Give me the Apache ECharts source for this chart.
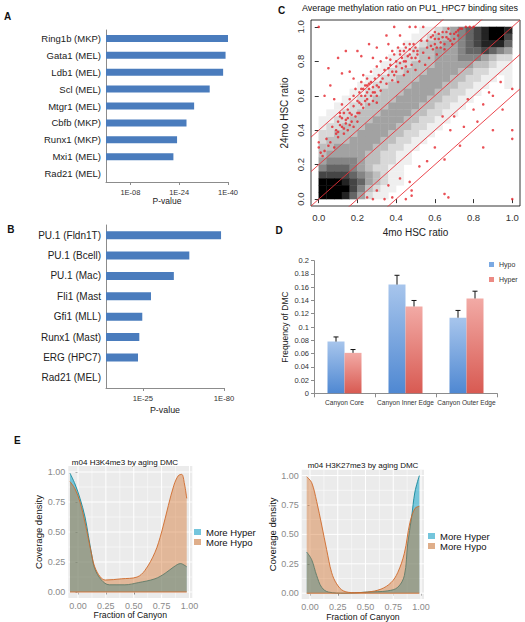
<!DOCTYPE html>
<html><head><meta charset="utf-8">
<script src="https://cdn.jsdelivr.net/npm/echarts@6/dist/echarts.min.js"></script>
<style>html,body{margin:0;padding:0;background:#fff}#c{width:525px;height:622px}</style>
</head><body><div id="c"></div>
<script>
// ---------- Panel A ----------
const aCategories = ['Ring1b (MKP)','Gata1 (MEL)','Ldb1 (MEL)','Scl (MEL)','Mtgr1 (MEL)','Cbfb (MKP)','Runx1 (MKP)','Mxi1 (MEL)','Rad21 (MEL)'];
const aValues = [40, 39.2, 38.4, 34, 28.9, 26.4, 23.3, 22.1, 0];      // -log10(P)
const aTickValues = [8, 24, 40];
const aTickLabels = ['1E-08', '1E-24', '1E-40'];
// ---------- Panel B ----------
const bCategories = ['PU.1 (Fldn1T)','PU.1 (Bcell)','PU.1 (Mac)','Fli1 (Mast','Gfi1 (MLL)','Runx1 (Mast)','ERG (HPC7)','Rad21 (MEL)'];
const bValues = [78, 56.5, 46, 30.5, 24.6, 22.6, 21.7, 0];           // -log10(P)
const bTickValues = [25, 80];
const bTickLabels = ['1E-25', '1E-80'];
// ---------- Panel C ----------
const cTicks = [0, 0.2, 0.4, 0.6, 0.8, 1.0];
const cDiagOffsets = [-0.4, -0.2, 0, 0.2, 0.4];
// density of black points, rows from y=1 (top) to y=0, columns x=0..1, bins of 0.04
const cDensityRows = [
"0000000000000112345678998",
"0000000000001123345678997",
"0000000000011233445678886",
"0000000000112334445667654",
"0000000001122334445554322",
"0000000011223334444433211",
"0000000112233344443322111",
"0000001122333444433221101",
"0000011223334444332211001",
"0000112233344443322110000",
"0001122333444433221100000",
"0011223334444332211000000",
"0112233344443322110000000",
"1122333444433221100000000",
"1223334444332211000000000",
"2233344443322110000000000",
"2333444433221100000000000",
"3344444332211000000000000",
"3444443322110000000000000",
"4555543322110000000000000",
"5666543221100000000000000",
"7777654321100000000000000",
"9998764321100000000000000",
"9999753211000000000000000",
"9998642110000000000000000"
];
const cHyperPoints = [[0,1],[0.05,0.76],[0.03,0.6],[0,0.33],[0,0.3],[0.01,0.27],[0.02,0.25],[0.03,0.28],[0.05,0.31],[0.04,0.35],[0.06,0.33],[0.08,0.3],[0.07,0.42],[0.09,0.38],[0.1,0.45],[0.11,0.48],[0.12,0.42],[0.13,0.5],[0.12,0.55],[0.14,0.46],[0.15,0.52],[0.16,0.58],[0.17,0.49],[0.18,0.6],[0.18,0.54],[0.19,0.64],[0.2,0.57],[0.2,0.5],[0.21,0.62],[0.22,0.68],[0.22,0.55],[0.23,0.72],[0.24,0.6],[0.24,0.66],[0.25,0.7],[0.25,0.58],[0.26,0.64],[0.27,0.74],[0.27,0.68],[0.28,0.62],[0.29,0.7],[0.3,0.66],[0.3,0.77],[0.31,0.72],[0.32,0.8],[0.32,0.63],[0.33,0.7],[0.34,0.75],[0.35,0.67],[0.35,0.82],[0.36,0.72],[0.37,0.78],[0.38,0.69],[0.38,0.86],[0.4,0.74],[0.4,0.8],[0.41,0.68],[0.42,0.84],[0.43,0.76],[0.44,0.72],[0.45,0.88],[0.45,0.8],[0.46,0.74],[0.47,0.84],[0.48,0.78],[0.49,0.9],[0.5,0.82],[0.5,0.75],[0.51,0.86],[0.52,0.8],[0.53,0.92],[0.54,0.85],[0.55,0.78],[0.56,0.88],[0.57,0.82],[0.58,0.94],[0.59,0.87],[0.6,0.9],[0.61,0.84],[0.62,0.93],[0.63,0.88],[0.64,0.97],[0.65,0.9],[0.66,0.94],[0.67,0.99],[0.68,0.92],[0.7,0.96],[0.72,0.98],[0.74,0.99],[0.76,1],[0.78,1],[0.8,1],[0.2,0.86],[0.22,0.83],[0.14,0.86],[0.1,0.82],[0.06,0.66],[0.08,0.58],[0.12,0.73],[0.16,0.74],[0.26,0.9],[0.3,0.88],[0.35,0.95],[0.39,1],[0.47,1],[0.5,1],[0.54,1],[0.42,0.95],[0.44,0.9],[0.36,0.9],[0.28,0.82],[0.18,0.7],
[0.09,0.4],[0.1,0.39],[0.11,0.43],[0.12,0.47],[0.13,0.41],[0.14,0.44],[0.15,0.4],[0.15,0.47],[0.16,0.43],[0.17,0.45],[0.18,0.42],[0.19,0.48],[0.2,0.45],[0.21,0.5],[0.13,0.38],[0.11,0.5],[0.16,0.5],[0.1,0.36],
[0.21,0.56],[0.22,0.6],[0.23,0.53],[0.23,0.64],[0.24,0.57],[0.25,0.62],[0.26,0.55],[0.26,0.67],[0.27,0.6],[0.28,0.65],[0.28,0.57],[0.29,0.62],[0.3,0.6],[0.31,0.65],[0.32,0.68],[0.25,0.66],[0.22,0.64],[0.3,0.56],
[0.36,0.76],[0.37,0.81],[0.38,0.74],[0.39,0.84],[0.4,0.77],[0.41,0.88],[0.42,0.79],[0.43,0.82],[0.44,0.86],[0.45,0.77],[0.46,0.83],[0.47,0.9],[0.48,0.82],[0.49,0.86],[0.5,0.88],[0.51,0.84],[0.39,0.72],[0.44,0.8],[0.47,0.87],[0.42,0.86],
[0.56,0.92],[0.58,0.89],[0.59,0.95],[0.6,0.93],[0.61,0.88],[0.62,0.96],[0.63,0.91],[0.64,0.94],[0.65,0.87],[0.66,0.97],[0.67,0.93],[0.68,0.96],[0.69,0.9],[0.7,0.93],[0.71,0.97],[0.72,0.95],[0.73,0.99],[0.6,0.97]];
const cHypoPoints = [[0.25,0.01],[0.28,0],[0.34,0],[0.38,0.01],[0.45,0],[0.48,0.02],[0.48,0.05],[0.65,0.03],[0.67,0.01],[1,0],[0.3,0.05],[0.36,0.08],[0.42,0.12],[0.47,0.1],[0.52,0.19],[0.56,0.22],[0.6,0.3],[0.65,0.23],[0.64,0.48],[0.68,0.4],[0.73,0.31],[0.77,0.58],[0.8,0.52],[0.82,0.45],[0.85,0.55],[0.88,0.62],[0.9,0.6],[0.94,0.68],[1,0.64],[1,0.4],[1,0.35],[0.95,0.52],[0.7,0.48],[0.75,0.42],[0.85,0.3],[0.9,0.4]];
// ---------- Panel D ----------
const dCategories = ['Canyon Core', 'Canyon Inner Edge', 'Canyon Outer Edge'];
const dHypo = [0.078, 0.164, 0.114];
const dHyper = [0.061, 0.131, 0.143];
const dHypoErr = [0.007, 0.014, 0.011];
const dHyperErr = [0.005, 0.009, 0.011];
// ---------- Panel E ----------
const eMajor = [0, 0.25, 0.5, 0.75, 1];
const eMinor = [0.125, 0.375, 0.625, 0.875];
const e1HyperX = [-0.072,-0.027,0.018,0.063,0.093,0.123,0.15,0.21,0.28,0.42,0.54,0.69,0.78,0.86,0.92,0.96,0.975];
const e1HyperY = [0.99,0.90,0.78,0.625,0.47,0.31,0.195,0.10,0.06,0.06,0.078,0.11,0.155,0.21,0.237,0.22,0.21];
const e1HypoX = [-0.072,-0.027,0.018,0.063,0.093,0.123,0.15,0.2,0.245,0.39,0.53,0.6,0.69,0.75,0.81,0.86,0.9,0.93,0.955,0.975];
const e1HypoY = [0.92,0.86,0.75,0.58,0.445,0.31,0.21,0.125,0.10,0.11,0.125,0.18,0.33,0.5,0.72,0.89,0.97,0.98,0.9,0.78];
const e2HyperX = [-0.03,0.015,0.06,0.105,0.165,0.315,0.52,0.7,0.79,0.85,0.88,0.915,0.945,0.985];
const e2HyperY = [0.35,0.285,0.15,0.05,0.01,0.0,0.01,0.02,0.05,0.15,0.42,0.645,0.86,1.0];
const e2HypoX = [-0.03,0.015,0.06,0.105,0.15,0.195,0.24,0.3,0.4,0.52,0.64,0.73,0.79,0.85,0.9,0.945,0.985];
const e2HypoY = [0.99,0.94,0.78,0.58,0.37,0.175,0.08,0.02,0.005,0.01,0.035,0.09,0.175,0.34,0.6,0.72,0.74];

const FONT = 'Liberation Sans, Arial, Helvetica, sans-serif';
const zip = (xs, ys) => xs.map((x, i) => [x, ys[i]]);

// density cells
const cCells = [];
cDensityRows.forEach((row, r) => {
  for (let c = 0; c < row.length; c++) {
    const v = +row[c];
    if (v > 0) cCells.push([c * 0.04, 1 - (r + 1) * 0.04, v]);
  }
});

const barW = 17;
function errSeries(values, errs, side) {
  return {
    type: 'custom', xAxisIndex: 3, yAxisIndex: 3, z: 5,
    data: values.map((v, i) => [i, v, v + errs[i]]),
    renderItem: (params, api) => {
      const b = api.coord([api.value(0), api.value(1)]);
      const t = api.coord([api.value(0), api.value(2)]);
      const x = b[0] + side * barW / 2;
      return { type: 'group', children: [
        { type: 'line', shape: { x1: x, y1: b[1], x2: x, y2: t[1] }, style: { stroke: '#111', lineWidth: 1 } },
        { type: 'line', shape: { x1: x - 2.5, y1: t[1], x2: x + 2.5, y2: t[1] }, style: { stroke: '#111', lineWidth: 1 } }
      ]};
    }
  };
}
function gridLines(idx, vals, vertical, lo, hi, width) {
  return {
    type: 'custom', xAxisIndex: idx, yAxisIndex: idx, z: 1, silent: true,
    data: vals.map(v => [v, 0]),
    renderItem: (params, api) => {
      const v = api.value(0);
      const p1 = vertical ? api.coord([v, lo]) : api.coord([lo, v]);
      const p2 = vertical ? api.coord([v, hi]) : api.coord([hi, v]);
      return { type: 'line', shape: { x1: p1[0], y1: p1[1], x2: p2[0], y2: p2[1] }, style: { stroke: '#ffffff', lineWidth: width } };
    }
  };
}
function densSeries(idx, name, xs, ys, line, fill, op, z) {
  return {
    name: name, type: 'line', xAxisIndex: idx, yAxisIndex: idx, z: z,
    data: zip(xs, ys), smooth: 0.35, showSymbol: false, symbol: 'none',
    lineStyle: { color: line, width: 0.9 }, itemStyle: { color: fill },
    areaStyle: { color: fill, opacity: op }
  };
}
function baseLine(idx, x0, x1, color, z) {
  return { type: 'line', xAxisIndex: idx, yAxisIndex: idx, z: z, data: [[x0, 0], [x1, 0]], showSymbol: false, symbol: 'none', lineStyle: { color: color, width: 0.9 } };
}

const grayAxis = { lineStyle: { color: '#8c8c8c' } };
const E1 = { xmin: -0.087, xmax: 1.025 }, E2 = { xmin: -0.075, xmax: 1.027 };
const eXAxis = (gi, r) => ({
  gridIndex: gi, type: 'value', min: r.xmin, max: r.xmax, axisLine: { show: false },
  axisTick: { show: true, customValues: eMajor, length: 2.5, lineStyle: { color: '#444', width: 0.8 } },
  axisLabel: { customValues: eMajor, formatter: v => v.toFixed(2), fontSize: 9, color: '#8a8a8a', margin: 3 },
  splitLine: { show: false }, name: 'Fraction of Canyon', nameLocation: 'middle', nameGap: 12,
  nameTextStyle: { fontSize: 8.7, color: '#111' }
});
const eYAxis = (gi) => ({
  gridIndex: gi, type: 'value', min: -0.05, max: 1.05, axisLine: { show: false },
  axisTick: { show: true, customValues: eMajor, length: 2.5, lineStyle: { color: '#444', width: 0.8 } },
  axisLabel: { customValues: eMajor, formatter: v => v.toFixed(2), fontSize: 9, color: '#8a8a8a', margin: 3 },
  splitLine: { show: false }, name: 'Coverage density', nameLocation: 'middle', nameGap: 17,
  nameTextStyle: { fontSize: 9.5, color: '#111' }
});

const HYPER_FILL = '#00a0c8', HYPER_LINE = '#16889a', HYPO_FILL = '#d2691e', HYPO_LINE = '#cf6a2a';

const txt = (text, x, y, size, opts) => Object.assign({
  type: 'text', x: x, y: y,
  style: Object.assign({ text: text, fontSize: size, fontFamily: FONT, fill: '#111', textAlign: 'center', textVerticalAlign: 'middle' }, opts || {})
});

const option = {
  animation: false,
  textStyle: { fontFamily: FONT },
  grid: [
    { left: 106, top: 30, width: 122, height: 152 },
    { left: 106, top: 225, width: 118, height: 163 },
    { left: 311, top: 20, width: 209, height: 186, show: true, borderColor: '#000', borderWidth: 0.8, backgroundColor: 'transparent' },
    { left: 314, top: 260.7, width: 183, height: 132.6 },
    { left: 68.3, top: 466, width: 124, height: 132, show: true, backgroundColor: '#ebebeb', borderWidth: 0 },
    { left: 301.7, top: 469.7, width: 122.3, height: 132.3, show: true, backgroundColor: '#ebebeb', borderWidth: 0 }
  ],
  xAxis: [
    { gridIndex: 0, type: 'value', min: 0, max: 40, splitLine: { show: false }, axisLine: Object.assign({ show: true }, grayAxis),
      axisTick: { show: true, customValues: aTickValues, length: 3, lineStyle: { color: '#8c8c8c' } },
      axisLabel: { customValues: aTickValues, formatter: v => aTickLabels[aTickValues.indexOf(v)], fontSize: 7.5, color: '#333', margin: 6 },
      name: 'P-value', nameLocation: 'middle', nameGap: 14.5, nameTextStyle: { fontSize: 8.5, color: '#222' } },
    { gridIndex: 1, type: 'value', min: 0, max: 80, splitLine: { show: false }, axisLine: Object.assign({ show: true }, grayAxis),
      axisTick: { show: true, customValues: bTickValues, length: 3, lineStyle: { color: '#8c8c8c' } },
      axisLabel: { customValues: bTickValues, formatter: v => bTickLabels[bTickValues.indexOf(v)], fontSize: 7.7, color: '#333', margin: 6 },
      name: 'P-value', nameLocation: 'middle', nameGap: 17.5, nameTextStyle: { fontSize: 8.9, color: '#222' } },
    { gridIndex: 2, type: 'value', min: -0.04, max: 1.04, axisLine: { show: false }, splitLine: { show: false },
      axisTick: { show: true, customValues: cTicks, length: 4, lineStyle: { color: '#000', width: 0.8 } },
      axisLabel: { customValues: cTicks, formatter: v => v.toFixed(1), fontSize: 9.5, color: '#333', margin: 6 },
      name: '4mo HSC ratio', nameLocation: 'middle', nameGap: 21, nameTextStyle: { fontSize: 10, color: '#222' } },
    { gridIndex: 3, type: 'category', data: dCategories, axisLine: grayAxis,
      axisTick: { show: true, length: 4, lineStyle: { color: '#8c8c8c' } },
      axisLabel: { fontSize: 6.6, color: '#333', margin: 6, interval: 0 } },
    eXAxis(4, E1),
    eXAxis(5, E2)
  ],
  yAxis: [
    { gridIndex: 0, type: 'category', data: aCategories, inverse: true, axisLine: grayAxis, axisTick: { show: false },
      axisLabel: { fontSize: 9.5, color: '#222', margin: 5 } },
    { gridIndex: 1, type: 'category', data: bCategories, inverse: true, axisLine: grayAxis, axisTick: { show: false },
      axisLabel: { fontSize: 10, color: '#222', margin: 5 } },
    { gridIndex: 2, type: 'value', min: -0.04, max: 1.04, axisLine: { show: false }, splitLine: { show: false },
      axisTick: { show: true, customValues: cTicks, length: 4, lineStyle: { color: '#000', width: 0.8 } },
      axisLabel: { customValues: cTicks, formatter: v => v.toFixed(1), fontSize: 9.5, color: '#333', margin: 6, rotate: 90 },
      name: '24mo HSC ratio', nameLocation: 'middle', nameGap: 22, nameTextStyle: { fontSize: 10, color: '#222' } },
    { gridIndex: 3, type: 'value', min: 0, max: 0.2, interval: 0.02, splitLine: { show: false },
      axisLine: { show: true, lineStyle: { color: '#8c8c8c' } },
      axisTick: { show: true, length: 3, lineStyle: { color: '#8c8c8c' } },
      axisLabel: { fontSize: 7.5, color: '#333', margin: 5 },
      name: 'Frequency of DMC', nameLocation: 'middle', nameGap: 25, nameTextStyle: { fontSize: 8.5, color: '#222' } },
    eYAxis(4),
    eYAxis(5)
  ],
  legend: [
    { left: 489, top: 261, orient: 'vertical', icon: 'rect', itemWidth: 5, itemHeight: 5, itemGap: 8, padding: 0,
      textStyle: { fontSize: 7, color: '#333' },
      data: [{ name: 'Hypo', itemStyle: { color: '#7aa9e3' } }, { name: 'Hyper', itemStyle: { color: '#ec8a84' } }] },
    { left: 194, top: 527, orient: 'vertical', icon: 'rect', itemWidth: 7, itemHeight: 6, itemGap: 0, padding: 0,
      textStyle: { fontSize: 9.5, lineHeight: 7, color: '#111' },
      data: [{ name: 'More Hyper', itemStyle: { color: '#74c5dc', borderWidth: 0 } }, { name: 'More Hypo', itemStyle: { color: '#dfae8a', borderWidth: 0 } }] },
    { left: 428, top: 531, orient: 'vertical', icon: 'rect', itemWidth: 7, itemHeight: 6, itemGap: 0, padding: 0,
      textStyle: { fontSize: 9.5, lineHeight: 7, color: '#111' },
      data: [{ name: 'More Hyper', itemStyle: { color: '#74c5dc', borderWidth: 0 } }, { name: 'More Hypo', itemStyle: { color: '#dfae8a', borderWidth: 0 } }] }
  ],
  graphic: { elements: [
    txt('A', 7.5, 16.7, 10, { fontWeight: 'bold' }),
    txt('B', 10.8, 229.7, 10, { fontWeight: 'bold' }),
    txt('C', 281.7, 10.7, 10, { fontWeight: 'bold' }),
    txt('D', 279, 230, 10, { fontWeight: 'bold' }),
    txt('E', 17.3, 440.7, 10, { fontWeight: 'bold' }),
    txt('Average methylation ratio on PU1_HPC7 binding sites', 410, 7.5, 9),
    txt('m04 H3K4me3 by aging DMC', 125, 462, 8),
    txt('m04 H3K27me3 by aging DMC', 363, 465, 8)
  ]},
  series: [
    { type: 'bar', xAxisIndex: 0, yAxisIndex: 0, data: aValues, barWidth: 7, itemStyle: { color: '#4a7cbd' } },
    { type: 'bar', xAxisIndex: 1, yAxisIndex: 1, data: bValues, barWidth: 8, itemStyle: { color: '#4a7cbd' } },
    // C: density of black points
    { type: 'custom', xAxisIndex: 2, yAxisIndex: 2, z: 1, silent: true, data: cCells,
      renderItem: (params, api) => {
        const x0 = api.value(0), y0 = api.value(1), v = api.value(2);
        const p1 = api.coord([x0, y0 + 0.04]), p2 = api.coord([x0 + 0.04, y0]);
        const g = Math.round(255 * (1 - Math.pow(v / 9, 1.25)));
        return { type: 'rect', shape: { x: p1[0] - 0.2, y: p1[1] - 0.2, width: p2[0] - p1[0] + 0.4, height: p2[1] - p1[1] + 0.4 },
          style: { fill: 'rgb(' + g + ',' + g + ',' + g + ')' } };
      } },
    ...cDiagOffsets.map(o => ({ type: 'line', xAxisIndex: 2, yAxisIndex: 2, z: 3, clip: true, showSymbol: false, symbol: 'none',
      data: [[-0.04, -0.04 + o], [1.04, 1.04 + o]], lineStyle: { color: '#e8323a', width: 0.9 } })),
    { type: 'scatter', xAxisIndex: 2, yAxisIndex: 2, z: 4, data: cHyperPoints, symbolSize: 2.6, itemStyle: { color: '#e5252d' } },
    { type: 'scatter', xAxisIndex: 2, yAxisIndex: 2, z: 4, data: cHypoPoints, symbolSize: 2.6, itemStyle: { color: '#e5252d' } },
    // D
    { name: 'Hypo', type: 'bar', xAxisIndex: 3, yAxisIndex: 3, data: dHypo, barWidth: barW, barGap: '0%',
      itemStyle: { color: { type: 'linear', x: 0, y: 0, x2: 0, y2: 1, colorStops: [{ offset: 0, color: '#a7c5ec' }, { offset: 1, color: '#4f88d2' }] } } },
    { name: 'Hyper', type: 'bar', xAxisIndex: 3, yAxisIndex: 3, data: dHyper, barWidth: barW, barGap: '0%',
      itemStyle: { color: { type: 'linear', x: 0, y: 0, x2: 0, y2: 1, colorStops: [{ offset: 0, color: '#f2aaa5' }, { offset: 1, color: '#d85a52' }] } } },
    errSeries(dHypo, dHypoErr, -1),
    errSeries(dHyper, dHyperErr, 1),
    // E1
    gridLines(4, eMinor, true, -0.05, 1.05, 0.5), gridLines(4, eMinor, false, E1.xmin, E1.xmax, 0.5),
    gridLines(4, eMajor, true, -0.05, 1.05, 1), gridLines(4, eMajor, false, E1.xmin, E1.xmax, 1),
    densSeries(4, 'More Hyper', e1HyperX, e1HyperY, HYPER_LINE, HYPER_FILL, 0.5, 2),
    densSeries(4, 'More Hypo', e1HypoX, e1HypoY, HYPO_LINE, HYPO_FILL, 0.4, 3),
    baseLine(4, e1HypoX[0], e1HypoX[e1HypoX.length - 1], HYPO_LINE, 3),
    // E2
    gridLines(5, eMinor, true, -0.05, 1.05, 0.5), gridLines(5, eMinor, false, E2.xmin, E2.xmax, 0.5),
    gridLines(5, eMajor, true, -0.05, 1.05, 1), gridLines(5, eMajor, false, E2.xmin, E2.xmax, 1),
    densSeries(5, 'More Hyper', e2HyperX, e2HyperY, HYPER_LINE, HYPER_FILL, 0.5, 2),
    densSeries(5, 'More Hypo', e2HypoX, e2HypoY, HYPO_LINE, HYPO_FILL, 0.4, 3),
    baseLine(5, e2HypoX[0], e2HypoX[e2HypoX.length - 1], HYPO_LINE, 3)
  ]
};
const chart = echarts.init(document.getElementById('c'), null, { renderer: 'svg', width: 525, height: 622 });
chart.setOption(option);
</script>
</body></html>
